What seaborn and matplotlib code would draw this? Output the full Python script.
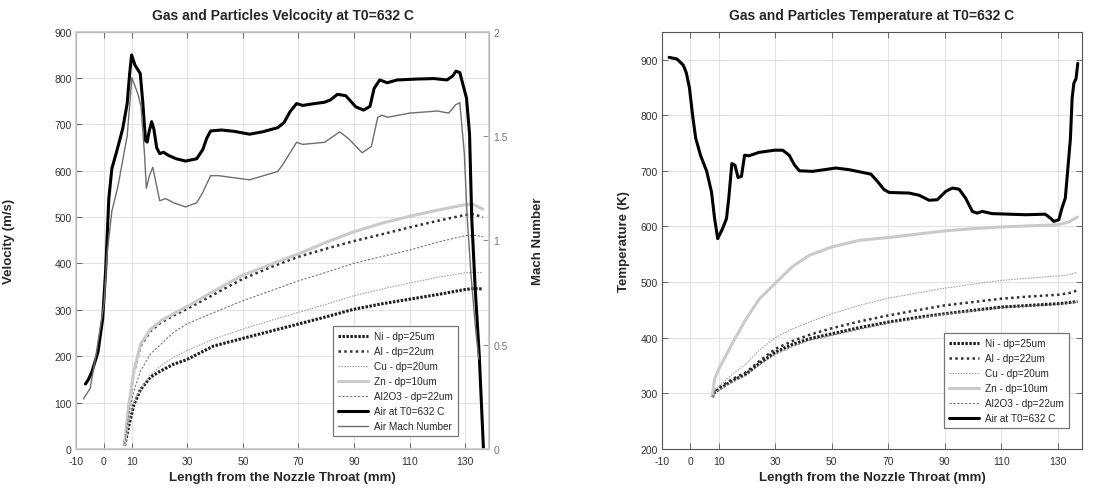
import matplotlib
matplotlib.use("Agg")
import matplotlib.pyplot as plt
import seaborn as sns

sns.set_theme(style="whitegrid")
plt.rcParams["font.family"] = ["Liberation Sans", "DejaVu Sans"]
plt.rcParams["axes.unicode_minus"] = False

# ---- velocity panel data ----
air_v_x = [-6.6, -5.5, -4.3, -2.1, -0.4, 0.7, 1.8, 2.9, 4.6, 6.8, 8.4, 9.3, 10.0, 11.2, 13.1, 14.0,
           15.0, 15.6, 16.3, 17.2, 18.0, 19.0, 20.1, 21.5, 23.3, 26.0, 29.4, 33.4, 35.6, 37.0, 38.4,
           42.3, 47.0, 52.4, 57.0, 62.5, 64.8, 67.0, 69.3, 71.5, 75.7, 79.4, 81.5, 84.0, 87.0, 90.6,
           93.4, 95.7, 97.2, 99.2, 101.9, 105.5, 112.7, 118.7, 123.4, 125.5, 126.6, 128.0, 130.4,
           131.5, 132.3, 133.5, 135.0, 136.5]
air_v = [140, 150, 166, 209, 281, 389, 540, 605, 641, 691, 745, 810, 850, 828, 810, 749,
         665, 662, 685, 706, 690, 650, 637, 640, 633, 626, 621, 626, 646, 670, 686,
         688, 685, 679, 684, 693, 704, 728, 745, 741, 745, 748, 753, 765, 762, 738,
         731, 739, 778, 796, 790, 796, 798, 799, 796, 805, 815, 812, 757,
         680, 497, 350, 201, 0]

mach_x = [-7.3, -4.9, -2.7, 0.1, 1.2, 2.9, 5.1, 7.3, 8.4, 10.1, 12.3, 13.4, 14.6, 15.3, 16.4, 17.6,
          18.7, 20.1, 22.3, 25.1, 29.4, 33.4, 35.6, 38.4, 41.2, 52.4, 62.5, 64.2, 67.0, 69.3, 71.5,
          79.4, 84.8, 87.8, 92.9, 96.2, 98.5, 100.0, 102.0, 110.0, 120.0, 124.0, 126.5, 128.0,
          129.6, 130.7, 132.0, 133.5, 134.8]
mach = [0.24, 0.29, 0.46, 0.70, 0.94, 1.14, 1.26, 1.42, 1.50, 1.78, 1.70, 1.64, 1.42, 1.25, 1.31, 1.35,
        1.28, 1.19, 1.20, 1.18, 1.16, 1.18, 1.23, 1.31, 1.31, 1.29, 1.33, 1.36, 1.42, 1.47, 1.46,
        1.47, 1.52, 1.49, 1.42, 1.45, 1.59, 1.60, 1.59, 1.61, 1.62, 1.61, 1.65, 1.66,
        1.42, 1.10, 0.84, 0.60, 0.43]

pv_x = [7.5, 9.0, 10.8, 13.2, 16.8, 20.4, 25.2, 29.6, 39.5, 49.7, 60.0, 69.7, 80.0, 89.7, 100.0,
        110.0, 120.0, 130.0, 133.0, 136.3]
ni_v = [7, 50, 95, 128, 155, 168, 183, 192, 222, 238, 254, 269, 285, 301, 313, 323, 333, 344, 346, 345]
al_v = [14, 93, 165, 222, 254, 272, 288, 301, 333, 366, 392, 414, 432, 448, 463, 478, 492, 505, 506, 500]
cu_v = [7, 60, 100, 130, 160, 179, 198, 211, 237, 258, 277, 294, 312, 330, 345, 358, 370, 380, 381, 380]
zn_v = [10, 95, 168, 226, 258, 276, 292, 306, 340, 374, 398, 420, 446, 468, 487, 502, 515, 527, 527, 517]
al2o3_v = [10, 75, 125, 168, 205, 225, 252, 269, 294, 319, 341, 362, 381, 400, 415, 429, 446, 460, 461, 458]

# ---- temperature panel data ----
air_t_x = [-7.5, -4.7, -2.5, -1.4, -0.3, 0.8, 1.9, 3.6, 5.8, 7.5, 8.6, 9.7, 11.4, 12.8, 13.6, 14.7,
           15.8, 16.9, 18.1, 19.2, 20.8, 24.2, 29.7, 32.7, 35.0, 36.8, 38.6, 43.3, 51.5, 56.2, 63.9,
           66.2, 68.6, 70.4, 77.4, 81.0, 84.5, 87.4, 90.4, 92.7, 95.1, 97.4, 99.8, 101.5, 103.3,
           106.8, 118.6, 125.6, 127.4, 128.6, 130.4, 131.5, 132.7, 134.5, 135.1, 135.7, 136.5, 137.1]
air_t = [904, 901, 890, 876, 849, 800, 759, 728, 699, 662, 614, 578, 596, 614, 650, 713,
         710, 688, 690, 728, 727, 733, 737, 737, 728, 711, 700, 699, 705, 702, 694,
         681, 666, 661, 660, 656, 647, 648, 663, 669, 667, 651, 627, 624, 627,
         623, 621, 622, 615, 609, 612, 633, 651, 758, 830, 857, 866, 893]

pt_x = [7.8, 8.6, 10.4, 15.1, 19.8, 24.5, 30.1, 36.2, 42.1, 50.1, 59.8, 70.1, 80.0, 90.0, 100.0,
        110.0, 120.0, 130.0, 134.0, 137.0]
ni_t = [293, 302, 308, 323, 335, 354, 374, 388, 398, 407, 418, 428, 436, 443, 449, 455, 458, 461, 463, 465]
al_t = [295, 304, 311, 326, 338, 358, 380, 394, 405, 417, 429, 440, 449, 458, 464, 470, 474, 477, 480, 485]
cu_t = [296, 305, 314, 335, 353, 378, 400, 416, 428, 443, 458, 471, 480, 489, 496, 503, 507, 511, 513, 518]
zn_t = [296, 326, 347, 392, 434, 470, 498, 528, 548, 563, 575, 580, 586, 592, 596, 599, 601, 603, 608, 617]
al2o3_t = [294, 302, 307, 321, 332, 351, 370, 384, 395, 404, 415, 426, 434, 442, 448, 454, 457, 460, 462, 464]

x_ticks = [-10, 0, 10, 30, 50, 70, 90, 110, 130]

styles = {
    "Ni - dp=25um": dict(color="#1e1e1e", lw=2.2, ls=(0, (0.8, 0.5))),
    "Al - dp=22um": dict(color="#333333", lw=1.8, ls=(0, (1, 1.3))),
    "Cu - dp=20um": dict(color="#a8a8a8", lw=0.8, ls=(0, (1.5, 1))),
    "Zn - dp=10um": dict(color="#cacaca", lw=2.2, ls="-"),
    "Al2O3 - dp=22um": dict(color="#777777", lw=0.8, ls=(0, (2, 1.5))),
}


def style_axis(ax):
    ax.set_facecolor("white")
    ax.grid(True, color="#e3e3e3", lw=0.8)
    for sp in ax.spines.values():
        sp.set_color("#555555")
        sp.set_linewidth(0.8)
        sp.set_visible(True)
    ax.tick_params(direction="in", length=4, width=0.6, colors="#555555", labelsize=7.5,
                   labelcolor="#333333", top=True, right=True, bottom=True, left=True, pad=3)
    ax.tick_params(axis="x", pad=5)
    ax.set_xticks(x_ticks)
    ax.set_xlim(-10, 138.6)


fig = plt.figure(figsize=(11.11, 4.89), dpi=100)
ax1 = fig.add_axes([0.0684, 0.080, 0.372, 0.853])
ax3 = fig.add_axes([0.5959, 0.080, 0.378, 0.853])

# velocity panel
ax2 = ax1.twinx()
particles_v = {"Ni - dp=25um": ni_v, "Al - dp=22um": al_v, "Cu - dp=20um": cu_v,
               "Zn - dp=10um": zn_v, "Al2O3 - dp=22um": al2o3_v}
for name, vals in particles_v.items():
    sns.lineplot(x=pv_x, y=vals, ax=ax1, label=name, sort=False, **styles[name])
sns.lineplot(x=air_v_x, y=air_v, ax=ax1, label="Air at T0=632 C", sort=False, color="black", lw=2.2)
sns.lineplot(x=mach_x, y=mach, ax=ax2, label="Air Mach Number", sort=False, color="#6e6e6e", lw=1.0)

style_axis(ax1)
ax1.set_ylim(0, 900)
ax1.set_yticks(range(0, 901, 100))
ax2.set_ylim(0, 2)
ax2.set_yticks([0, 0.5, 1, 1.5, 2])
ax2.set_yticklabels(["0", "0.5", "1", "1.5", "2"])
ax2.grid(False)
ax2.tick_params(direction="in", length=4, width=0.6, colors="#777777", labelsize=7.5,
                labelcolor="#777777", pad=3)
ax1.tick_params(right=False)

h1, l1 = ax1.get_legend_handles_labels()
h2, l2 = ax2.get_legend_handles_labels()
ax2.get_legend().remove()
ax1.get_legend().remove()
leg = ax2.legend(h1 + h2, l1 + l2, loc="lower right", bbox_to_anchor=(0.937, 0.018), fontsize=7.2,
                 frameon=True, fancybox=False, edgecolor="#777777", framealpha=1,
                 handlelength=3.0, labelspacing=0.5, borderpad=0.5, handletextpad=0.6)
leg.get_frame().set_linewidth(0.9)

ax1.set_title("Gas and Particles Velcocity at T0=632 C", fontsize=10, fontweight="bold", pad=9)
ax1.set_xlabel("Length from the Nozzle Throat (mm)", fontsize=9.5, fontweight="bold")
ax1.set_ylabel("Velocity (m/s)", fontsize=9.5, fontweight="bold")
ax2.set_ylabel("Mach Number", fontsize=9.5, fontweight="bold")
ax1.xaxis.set_label_coords(0.5, -0.052)
ax1.yaxis.set_label_coords(-0.148, 0.5)
ax2.yaxis.set_label_coords(1.104, 0.5)

# temperature panel
particles_t = {"Ni - dp=25um": ni_t, "Al - dp=22um": al_t, "Cu - dp=20um": cu_t,
               "Zn - dp=10um": zn_t, "Al2O3 - dp=22um": al2o3_t}
for name, vals in particles_t.items():
    sns.lineplot(x=pt_x, y=vals, ax=ax3, label=name, sort=False, **styles[name])
sns.lineplot(x=air_t_x, y=air_t, ax=ax3, label="Air at T0=632 C", sort=False, color="black", lw=2.2)

style_axis(ax3)
ax3.set_ylim(200, 950)
ax3.set_yticks(range(200, 901, 100))
leg3 = ax3.legend(loc="lower right", bbox_to_anchor=(0.981, 0.038), fontsize=7.2,
                  frameon=True, fancybox=False, edgecolor="#777777", framealpha=1,
                  handlelength=3.0, labelspacing=0.5, borderpad=0.5, handletextpad=0.6)
leg3.get_frame().set_linewidth(0.9)
ax3.set_title("Gas and Particles Temperature at T0=632 C", fontsize=10, fontweight="bold", pad=9)
ax3.set_xlabel("Length from the Nozzle Throat (mm)", fontsize=9.5, fontweight="bold")
ax3.set_ylabel("Temperature (K)", fontsize=9.5, fontweight="bold")
ax3.xaxis.set_label_coords(0.5, -0.052)
ax3.yaxis.set_label_coords(-0.076, 0.5)

fig.savefig("out.png", dpi=100)
